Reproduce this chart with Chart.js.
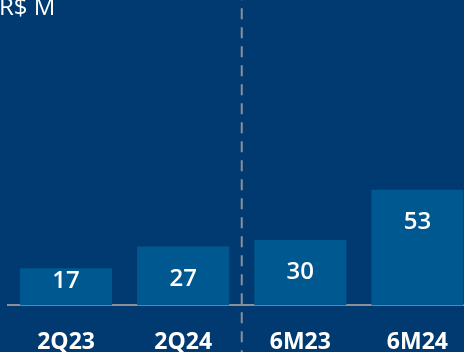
<!DOCTYPE html>
<html>
<head>
<meta charset="utf-8">
<script src="https://cdn.jsdelivr.net/npm/chart.js@4/dist/chart.umd.min.js"></script>
<style>
  html, body { margin: 0; padding: 0; background: #003a70; overflow: hidden; }
  canvas { display: block; }
</style>
</head>
<body>
<canvas id="c" width="476" height="379"></canvas>
<script>
// Periods and values (R$ millions)
const categories = ['2Q23', '2Q24', '6M23', '6M24'];
const values = [17, 27, 30, 53];
const unitLabel = 'R$ M';

const BAR = '#005891';
const GREY = '#8b9098';
const FONT = '"Open Sans", "Noto Sans", sans-serif';

// Unit caption in the top-left corner
const unitPlugin = {
  id: 'unitLabel',
  afterDraw(chart) {
    const ctx = chart.ctx;
    ctx.save();
    ctx.fillStyle = '#ffffff';
    ctx.font = '400 24px ' + FONT;
    ctx.textAlign = 'left';
    ctx.textBaseline = 'alphabetic';
    ctx.fillText(unitLabel, -1, 15);
    ctx.restore();
  }
};

// Dashed divider between the quarterly and half-year groups
const dividerPlugin = {
  id: 'divider',
  afterDraw(chart) {
    const x = chart.scales.x;
    const px = (x.getPixelForValue(1) + x.getPixelForValue(2)) / 2;
    const ctx = chart.ctx;
    ctx.save();
    ctx.strokeStyle = GREY;
    ctx.lineWidth = 2;
    ctx.setLineDash([11, 8]);
    ctx.lineDashOffset = 10.7;
    ctx.beginPath();
    ctx.moveTo(px, 0);
    ctx.lineTo(px, chart.height);
    ctx.stroke();
    ctx.restore();
  }
};

// Value labels inside the bars, near the top
const valuePlugin = {
  id: 'valueLabels',
  afterDatasetsDraw(chart) {
    const ctx = chart.ctx;
    const meta = chart.getDatasetMeta(0);
    ctx.save();
    ctx.fillStyle = '#ffffff';
    ctx.font = '600 24px ' + FONT;
    ctx.textAlign = 'center';
    ctx.textBaseline = 'alphabetic';
    meta.data.forEach((bar, i) => {
      const y = Math.min(bar.y + 39, bar.base - 17);
      ctx.fillText(String(chart.data.datasets[0].data[i]), bar.x, y);
    });
    ctx.restore();
  }
};

new Chart(document.getElementById('c'), {
  type: 'bar',
  data: {
    labels: categories,
    datasets: [{
      data: values,
      backgroundColor: BAR,
      borderWidth: 0,
      categoryPercentage: 1,
      barPercentage: 0.786
    }]
  },
  options: {
    responsive: false,
    animation: false,
    layout: { padding: { left: 7.5, right: 0, top: 0, bottom: 0 } },
    plugins: {
      legend: { display: false },
      tooltip: { enabled: false }
    },
    scales: {
      x: {
        grid: { display: false, drawTicks: false },
        border: { display: true, color: GREY, width: 2 },
        ticks: {
          color: '#ffffff',
          padding: 23,
          font: { family: FONT, size: 23, weight: '700', lineHeight: 1.2 }
        }
      },
      y: {
        display: false,
        min: 0,
        max: 140
      }
    }
  },
  plugins: [unitPlugin, dividerPlugin, valuePlugin]
});
</script>
</body>
</html>
